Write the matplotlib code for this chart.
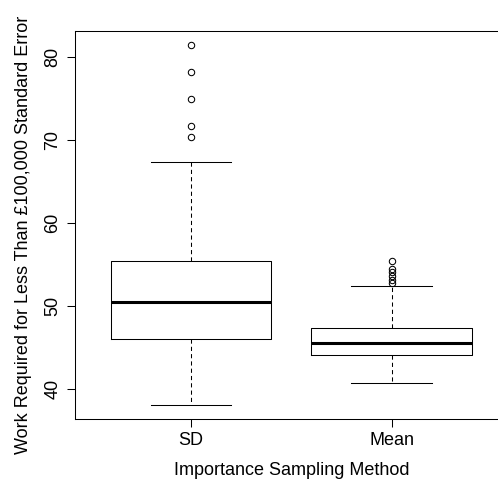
import matplotlib.pyplot as plt
import numpy as np

plt.rcParams['font.family'] = ['Liberation Sans', 'DejaVu Sans']

# five-number summaries (R-style boxplot)
methods = ["SD", "Mean"]
whisker_lo = [38.14, 40.71]
q1 = [46.00, 44.07]
medians = [50.47, 45.50]
q3 = [55.43, 47.40]
whisker_hi = [67.31, 52.35]
outliers_sd = [81.40, 78.08, 74.87, 71.63, 70.28]
outliers_mean = [55.39, 54.43, 54.07, 53.59, 53.11, 52.75]
outliers = [outliers_sd, outliers_mean]

stats = []
for i in range(len(methods)):
    stats.append({
        "label": methods[i],
        "whislo": whisker_lo[i],
        "q1": q1[i],
        "med": medians[i],
        "q3": q3[i],
        "whishi": whisker_hi[i],
        "fliers": outliers[i],
    })

fig = plt.figure(figsize=(4.98, 4.84), dpi=100)
# right edge of the frame runs past the picture, as in the reference
ax = fig.add_axes([74.5 / 498, (484 - 419) / 484, (508 - 74.5) / 498, (419 - 30.5) / 484])

lw = 0.75
ax.bxp(stats, positions=[1, 2], widths=0.8,
       boxprops=dict(color="black", linewidth=lw),
       medianprops=dict(color="black", linewidth=2.2, solid_capstyle="butt"),
       whiskerprops=dict(color="black", linewidth=lw, linestyle=(0, (4, 3))),
       capprops=dict(color="black", linewidth=lw),
       capwidths=0.4,
       flierprops=dict(marker="o", markersize=4.6, markerfacecolor="none",
                       markeredgecolor="black", markeredgewidth=lw, linestyle="none"))

allvals = whisker_lo + whisker_hi + outliers_sd + outliers_mean
lo, hi = min(allvals), max(allvals)
pad = 0.04 * (hi - lo)
ax.set_ylim(lo - pad, hi + pad)
ax.set_xlim(0.42, 2.58)

ax.set_yticks([40, 50, 60, 70, 80])
ax.set_yticklabels(["40", "50", "60", "70", "80"], rotation=90, va="center")
ax.set_xticks([1, 2])
ax.set_xticklabels(methods)

for s in ax.spines.values():
    s.set_linewidth(lw)
ax.tick_params(length=5.5, width=lw, labelsize=13, pad=4)

ax.set_xlabel("Importance Sampling Method", fontsize=13, labelpad=9)
ax.set_ylabel("Work Required for Less Than £100,000 Standard Error", fontsize=13)
ax.yaxis.set_label_coords(-0.097, 0.475)

fig.savefig("out.png", dpi=100)
